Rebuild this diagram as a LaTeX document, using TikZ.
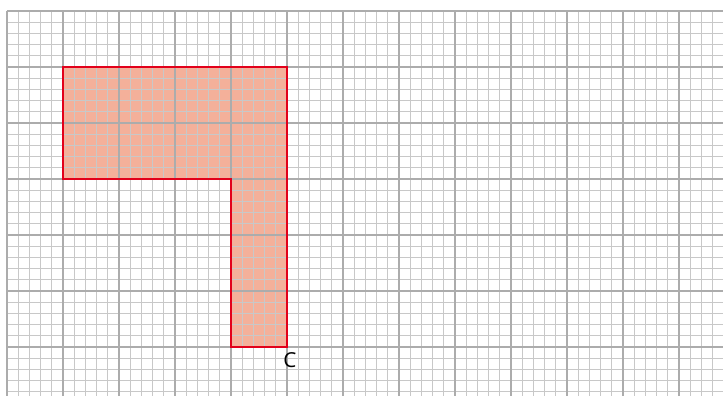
\documentclass[tikz,border=0pt]{standalone}
\usepackage{fontspec}
\setmainfont{Open Sans}

\definecolor{minorgray}{RGB}{200,200,200}
\definecolor{majorgray}{RGB}{172,172,172}
\definecolor{shapefill}{RGB}{244,176,154}
\definecolor{shapered}{RGB}{226,0,26}

\begin{document}
\begin{tikzpicture}[
		minor/.style={draw=minorgray, line width=0.5pt},
		major/.style={draw=majorgray, line width=1pt},
		outline/.style={draw=shapered, line width=1.3pt, line join=miter}
		]
	\useasboundingbox (-0.125,-6.875) rectangle (12.786,0.196);
	\fill [shapefill] (1,-1) -- (5,-1) -- (5,-6) -- (4,-6) -- (4,-3) -- (1,-3) -- cycle;
	\draw [minor] (0,-6.9) grid[step=0.2] (12.9,0);
	\draw [major] (0,-6.9) grid[step=1] (12.9,0);
	\draw [outline] (1,-1) -- (5,-1) -- (5,-6) -- (4,-6) -- (4,-3) -- (1,-3) -- cycle;
	\coordinate (c) at (5,-6);
	\node [inner sep=0pt, font=\fontsize{10.5}{12}\selectfont] (lc) at (5.05,-6.23) {C};
\end{tikzpicture}
\end{document}
